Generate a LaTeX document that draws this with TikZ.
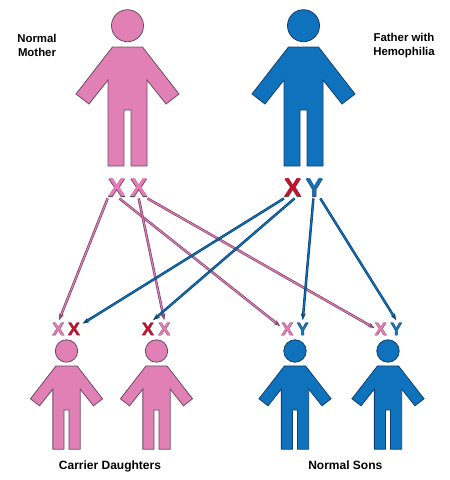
\documentclass[tikz,border=0pt]{standalone}
\usepackage{fontspec}
\setmainfont{Liberation Sans}
\usetikzlibrary{arrows.meta}
\definecolor{pinkfig}{HTML}{E080B5}
\definecolor{pinkedge}{HTML}{6E4A68}
\definecolor{bluefig}{HTML}{0F72BC}
\definecolor{blueedge}{HTML}{123F6C}
\definecolor{pinkx}{HTML}{EC78B6}
\definecolor{redx}{HTML}{C8102E}
\definecolor{pinkline}{HTML}{7A3F6A}
\definecolor{blueline}{HTML}{0B3F6E}
\definecolor{xedge}{HTML}{55505A}
\newcommand{\chrom}[2]{\rlap{\addfontfeature{FakeBold=1.6}\textcolor{xedge}{#2}}\textcolor{#1}{#2}}

\begin{document}
\begin{tikzpicture}[x=1pt,y=-1pt,
  every node/.style={font=\bfseries},
  person/.pic={
    \path[pic actions] (0,0) circle (16);
    \path[pic actions] (-15,21.3)--(15,21.3)--(51.5,68.3)--(38.5,78.3)--(19.5,54.3)--(19.5,140.3)--(3.5,140.3)--(3.5,84.3)--(-3.5,84.3)--(-3.5,140.3)--(-19.5,140.3)--(-19.5,54.3)--(-38.5,78.3)--(-51.5,68.3)--cycle;
  },
  girl/.style={draw=pinkedge,fill=pinkfig,line width=.8pt},
  boy/.style={draw=blueedge,fill=bluefig,line width=.8pt},
  big/.style={inner sep=0pt,outer sep=1.5pt,font=\bfseries\fontsize{26}{26}\selectfont},
  small/.style={inner sep=0pt,outer sep=2.6pt,font=\bfseries\fontsize{18}{18}\selectfont},
  lbl/.style={align=center,font=\bfseries\fontsize{11.4}{14.3}\selectfont},
  botlbl/.style={anchor=base,font=\bfseries\fontsize{12}{14}\selectfont},
  pk/.style={-{Stealth[length=7pt,width=5pt,fill=pinkfig]},draw=pinkline,double=pinkfig,line width=.7pt,double distance=1.1pt},
  bl/.style={-{Stealth[length=7pt,width=5pt,fill=bluefig]},draw=blueline,double=bluefig,line width=.7pt,double distance=1.1pt}]
\useasboundingbox (0,0) rectangle (450,480);

\pic (mother) [girl] at (127.5,25.7) {person};
\pic (father) [boy] at (303.5,25.7) {person};
\pic (dau1) [girl,scale=.7] at (66.5,351) {person};
\pic (dau2) [girl,scale=.7] at (156.5,351) {person};
\pic (son1) [boy,scale=.7] at (295,351) {person};
\pic (son2) [boy,scale=.7] at (388,351) {person};

\node[lbl] (lmother) at (37,45.5) {Normal\\Mother};
\node[lbl] (lfather) at (404,45.5) {Father with\\Hemophilia};
\node[botlbl] (ldau) at (110,469) {Carrier Daughters};
\node[botlbl] (lson) at (345.3,469) {Normal Sons};

\node[big] (mx1) at (116.7,188) {\chrom{pinkx}{X}};
\node[big] (mx2) at (138.7,188) {\chrom{pinkx}{X}};
\node[big] (fx) at (292.7,188) {\chrom{redx}{X}};
\node[big] (fy) at (314.3,188) {\chrom{bluefig}{Y}};

\node[small] (d1a) at (58.3,329) {\chrom{pinkx}{X}};
\node[small] (d1b) at (74,329) {\chrom{redx}{X}};
\node[small] (d2a) at (148,329) {\chrom{redx}{X}};
\node[small] (d2b) at (164.3,329) {\chrom{pinkx}{X}};
\node[small] (s1a) at (287.3,329) {\chrom{pinkx}{X}};
\node[small] (s1b) at (302.7,329) {\chrom{bluefig}{Y}};
\node[small] (s2a) at (380.7,329) {\chrom{pinkx}{X}};
\node[small] (s2b) at (396.3,329) {\chrom{bluefig}{Y}};

\draw[pk] (mx1.-131)--(d1a.85);
\draw[pk,shorten >=-2pt] (mx1.-76)--(s1a.155);
\draw[pk] (mx2.-90)--(d2b.90);
\draw[pk,shorten >=-3pt] (mx2.-50)--(s2a.165);
\draw[bl] (fx.-130)--(d1b.32);
\draw[bl] (fx.-80)--(d2a.60);
\draw[bl] (fy.-95)--(s1b.90);
\draw[bl] (fy.-60)--(s2b.90);
\end{tikzpicture}
\end{document}
